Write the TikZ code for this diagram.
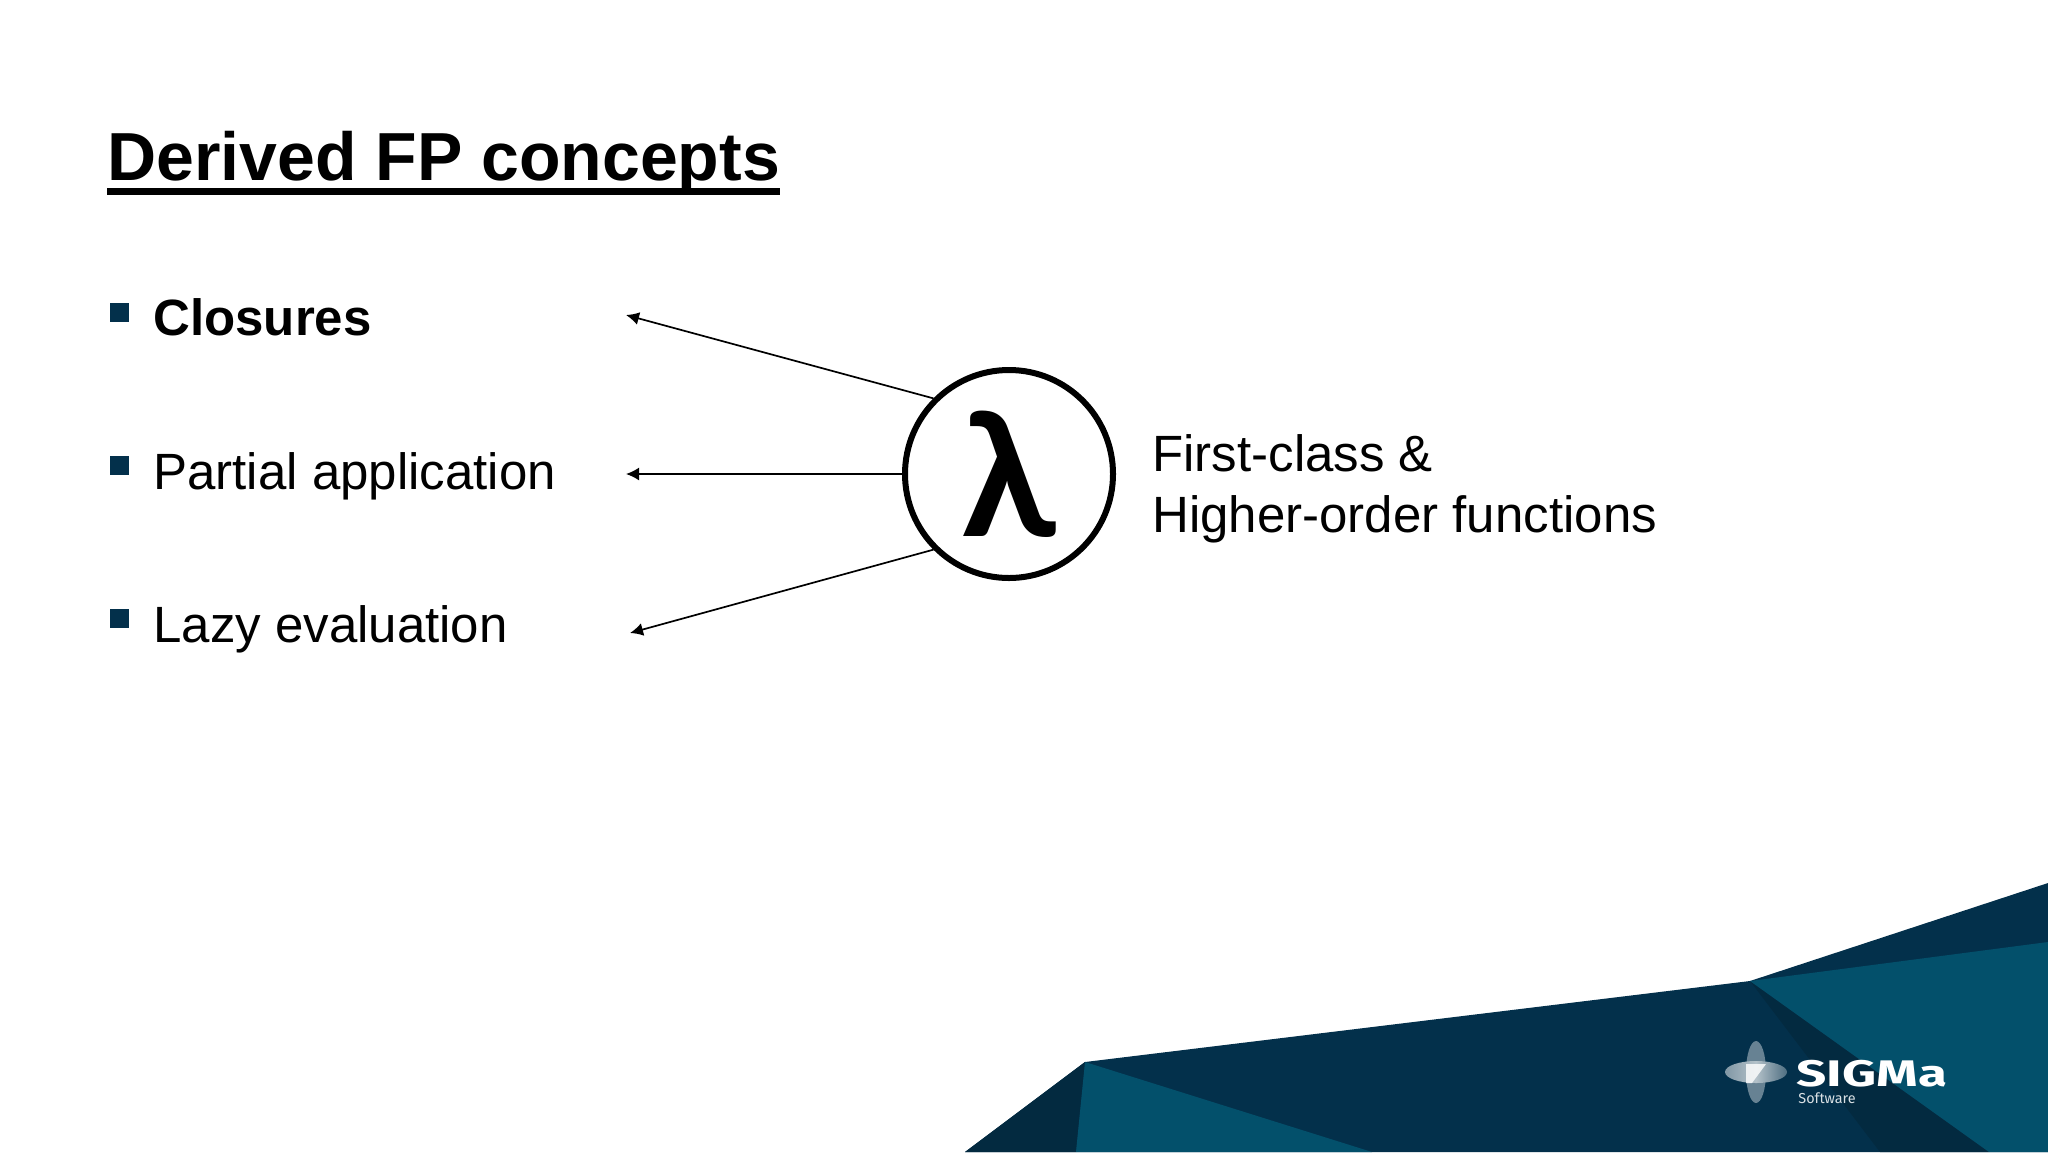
\documentclass[tikz,border=0pt]{standalone}
\usepackage{fontspec}
\setmainfont{Liberation Sans}
\newfontfamily\logofont{Fira Sans}
\newfontfamily\lamfont{Lato}
\usetikzlibrary{arrows.meta}
\definecolor{bandDark}{HTML}{03304B}
\definecolor{bandDeep}{HTML}{032A40}
\definecolor{bandLight}{HTML}{03506B}
\tikzset{
    titletext/.style={anchor=base west, inner sep=0pt, font=\fontsize{34}{40}\selectfont\bfseries},
    itemtext/.style={anchor=base west, inner sep=0pt, font=\fontsize{25.5}{30.5}\selectfont},
    bulletbox/.style={fill=bandDark, minimum size=9.5pt, inner sep=0pt},
    pointer/.style={line width=0.85pt, -{Latex[length=6.5pt,width=6.5pt]}},
}
\begin{document}
\begin{tikzpicture}[x=0.5pt,y=-0.5pt]
    \useasboundingbox (0,0) rectangle (2048,1152);
    % background bands
    \fill[bandDark] (965,1152) -- (1085,1062) -- (1750,981) -- (2048,883) -- (2048,1152) -- cycle;
    \fill[bandDeep] (965,1152) -- (1085,1062) -- (1076,1152) -- cycle;
    \fill[bandLight] (1085,1062) -- (1372,1152) -- (1076,1152) -- cycle;
    \fill[bandDeep] (1750,981) -- (1989,1152) -- (1880,1152) -- cycle;
    \fill[bandLight] (1750,981) -- (2048,942) -- (2048,1152) -- (1989,1152) -- cycle;
    % logo
    \fill[white, opacity=0.4] (1756,1072) ellipse [x radius=10, y radius=31];
    \shade[left color=white!50!bandDark, right color=white!30!bandDark, middle color=white!70!bandDark] (1756,1072) ellipse [x radius=31, y radius=11];
    \fill[white, opacity=0.8] (1746,1064) -- (1766,1064) -- (1752,1083) -- (1746,1083) -- cycle;
    \node[anchor=base west, inner sep=0pt, text=white, font=\logofont\bfseries\fontsize{18.5}{20}\selectfont, xscale=1.43] (sigma) at (1796,1086) {SIGMa};
    \node[anchor=base west, inner sep=0pt, text=white!85!bandDark, font=\logofont\fontsize{7.2}{9}\selectfont] (software) at (1798,1103) {Software};
    % title
    \node[titletext] (title) at (107,180) {Derived FP concepts};
    \draw[line width=3.5pt] ([yshift=-5.8pt]title.base west) -- ([yshift=-5.8pt]title.base east);
    % items
    \node[bulletbox] (b1) at (119,312) {};
    \node[bulletbox] (b2) at (119,465) {};
    \node[bulletbox] (b3) at (119,618) {};
    \node[itemtext, font=\fontsize{25.5}{30.5}\selectfont\bfseries] (closures) at (153,335) {Closures};
    \node[itemtext] (partial) at (153,489) {Partial application};
    \node[itemtext] (lazy) at (153,642) {Lazy evaluation};
    % lambda
    \node[circle, draw, line width=3pt, minimum size=104pt, inner sep=0pt, font=\lamfont\bfseries\fontsize{86}{86}\selectfont] (lam) at (1009,474) {λ};
    \coordinate (tipa) at (626,315);
    \coordinate (tipb) at (626,474);
    \coordinate (tipc) at (630,633);
    \draw[pointer] (lam.135) -- (tipa);
    \draw[pointer] (lam.west) -- (tipb);
    \draw[pointer] (lam.225) -- (tipc);
    \node[itemtext, align=left] (firstclass) at (1152,532) {First-class \&\\Higher-order functions};
\end{tikzpicture}
\end{document}
